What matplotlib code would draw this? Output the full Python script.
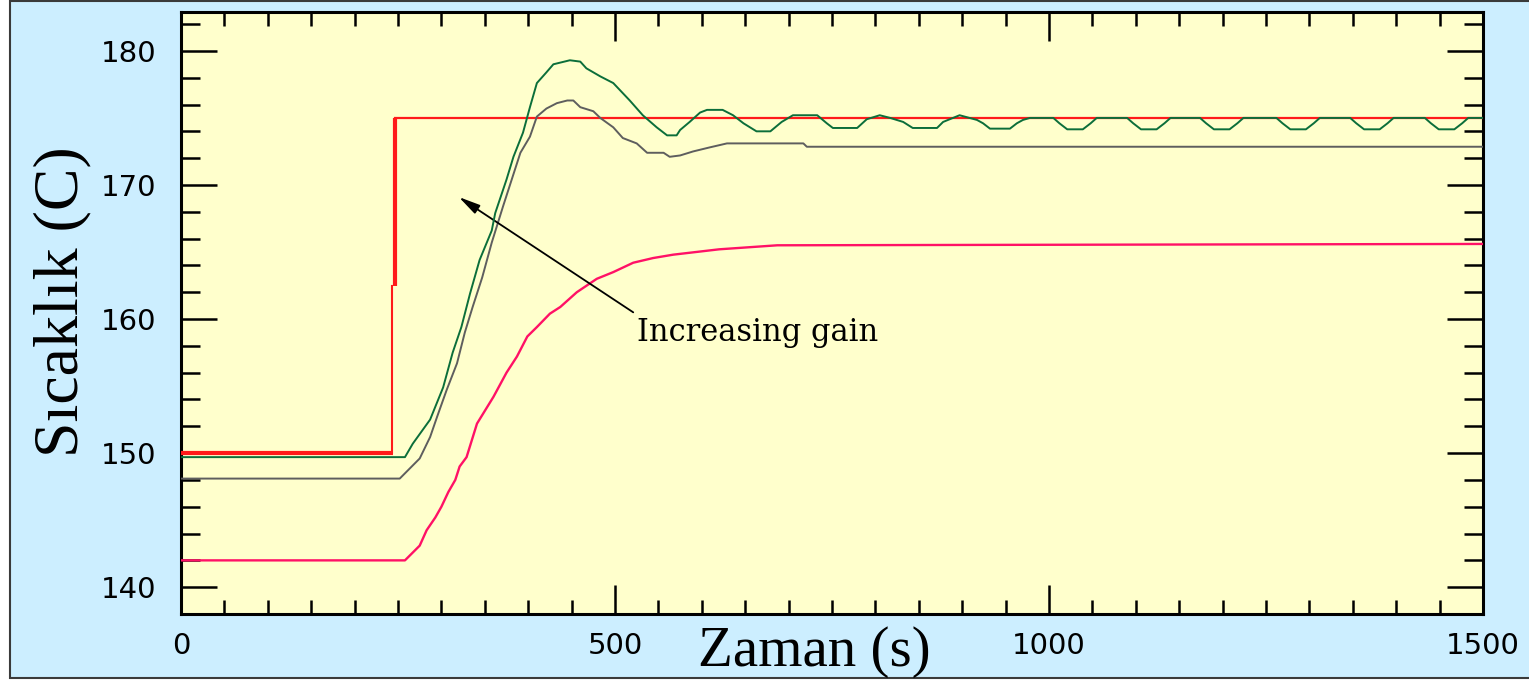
import numpy as np
import matplotlib
matplotlib.use("Agg")
import matplotlib.pyplot as plt
from matplotlib.patches import Rectangle
from matplotlib.ticker import MultipleLocator

# setpoint (red step)
sp_low_t = [0, 244]
sp_low_y = [150, 150]
sp_step_t = [243, 243]
sp_step_y = [150, 162.5]
sp_step2_t = [246, 246]
sp_step2_y = [162.5, 175]
sp_high_t = [246, 1500]
sp_high_y = [175, 175]

# highest gain (green)
green_t = [0, 258, 267, 287, 302, 313, 323, 333, 344, 358, 362, 375, 383, 394, 402,
           410, 421, 429, 448, 460, 467, 483, 498, 517, 532, 548, 560, 571, 575, 586,
           598, 606, 624, 636, 648, 663, 679, 692, 705, 733, 744, 751, 779, 790, 805,
           817, 832, 843, 871, 878, 897, 917, 924, 932, 955, 963, 970, 978,
           1005, 1012, 1021, 1039, 1048, 1055,
           1090, 1097, 1106, 1124, 1133, 1140,
           1174, 1181, 1190, 1208, 1217, 1224,
           1262, 1269, 1278, 1296, 1305, 1312,
           1347, 1354, 1363, 1381, 1390, 1397,
           1433, 1440, 1449, 1467, 1476, 1483, 1500]
green_y = [149.7, 149.7, 150.7, 152.5, 154.9, 157.5, 159.4, 161.9, 164.4, 166.6, 167.9,
           170.4, 172.1, 173.9, 175.8, 177.6, 178.4, 179.0, 179.3, 179.2, 178.7, 178.1,
           177.6, 176.3, 175.2, 174.3, 173.7, 173.7, 174.1, 174.7, 175.4, 175.6, 175.6,
           175.2, 174.6, 174.0, 174.0, 174.7, 175.2, 175.2, 174.6, 174.25, 174.25, 174.9,
           175.2, 175.0, 174.7, 174.25, 174.25, 174.7, 175.2, 174.85, 174.6, 174.2, 174.2,
           174.6, 174.85, 175.0,
           175.0, 174.6, 174.15, 174.15, 174.6, 175.0,
           175.0, 174.6, 174.15, 174.15, 174.6, 175.0,
           175.0, 174.6, 174.15, 174.15, 174.6, 175.0,
           175.0, 174.6, 174.15, 174.15, 174.6, 175.0,
           175.0, 174.6, 174.15, 174.15, 174.6, 175.0,
           175.0, 174.6, 174.15, 174.15, 174.6, 175.0, 175.0]

# middle gain (gray)
gray_t = [0, 252, 275, 287, 295, 306, 318, 327, 336, 347, 358, 371, 381, 391, 402, 410,
          421, 433, 445, 452, 460, 475, 483, 498, 509, 525, 537, 556, 563, 575, 590,
          609, 629, 717, 721, 1500]
gray_y = [148.1, 148.1, 149.6, 151.2, 152.7, 154.7, 156.7, 159.0, 160.9, 163.1, 165.7,
          168.4, 170.4, 172.4, 173.6, 175.1, 175.7, 176.1, 176.3, 176.3, 175.8, 175.5,
          175.0, 174.3, 173.5, 173.1, 172.4, 172.4, 172.1, 172.2, 172.5, 172.8, 173.1,
          173.1, 172.85, 172.85]

# lowest gain (pink)
pink_t = [0, 258, 275, 283, 293, 300, 308, 316, 321, 329, 341, 360, 375, 387, 399, 410,
          425, 437, 456, 479, 498, 521, 544, 567, 620, 687, 1500]
pink_y = [142.0, 142.0, 143.1, 144.25, 145.2, 146.0, 147.1, 148.0, 149.0, 149.7, 152.2,
          154.2, 156.0, 157.2, 158.7, 159.4, 160.4, 160.9, 162.0, 163.0, 163.5, 164.2,
          164.55, 164.8, 165.2, 165.5, 165.6]

x_ticks = [0, 500, 1000, 1500]
y_ticks = [140, 150, 160, 170, 180]

W, H = 1529, 680
fig = plt.figure(figsize=(W / 100, H / 100), dpi=100, facecolor="white")
fig.patches.append(Rectangle((10 / W, 2 / H), 1.2, 677 / H, transform=fig.transFigure,
                             facecolor="#cceeff", edgecolor="#3a3a3a", lw=1.5, zorder=-5))

ax = fig.add_axes([181 / W, 1 - 614 / H, (1483 - 181) / W, (614 - 12) / H])
ax.set_zorder(2)
ax.set_facecolor("#ffffcc")

red = "#ff1a1a"
ax.plot(sp_low_t, sp_low_y, color=red, lw=3.0, solid_capstyle="butt", zorder=4)
ax.plot(sp_step_t, sp_step_y, color=red, lw=1.5, zorder=4)
ax.plot(sp_step2_t, sp_step2_y, color=red, lw=3.0, solid_capstyle="butt", zorder=4)
ax.plot(sp_high_t, sp_high_y, color=red, lw=1.6, zorder=3)

ax.plot(gray_t, gray_y, color="#5e5e5e", lw=1.4, zorder=3)
ax.plot(pink_t, pink_y, color="#ff1166", lw=1.7, zorder=3)
ax.plot(green_t, green_y, color="#0b6e3a", lw=1.4, zorder=5)

ax.annotate("", xy=(320, 169.1), xytext=(521, 160.5),
            arrowprops=dict(arrowstyle="-|>,head_length=1.3,head_width=0.3",
                            color="black", lw=1.3, shrinkA=0, shrinkB=0))
ax.text(525, 159.0, "Increasing gain", fontsize=22, family="DejaVu Serif",
        va="center", ha="left")

ax.set_xlim(0, 1500)
ax.set_ylim(138, 182.9)
ax.set_xticks(x_ticks)
ax.set_yticks(y_ticks)
ax.xaxis.set_minor_locator(MultipleLocator(50))
ax.yaxis.set_minor_locator(MultipleLocator(2))
ax.tick_params(which="both", direction="in", top=True, right=True, width=1.8,
               labelsize=21, colors="black")
ax.tick_params(axis="x", which="major", length=21, pad=13)
ax.tick_params(axis="x", which="minor", length=10)
ax.tick_params(axis="y", which="major", length=26, pad=18)
ax.tick_params(axis="y", which="minor", length=13.5)
for s in ax.spines.values():
    s.set_linewidth(2.2)

fig.text(814 / W, 1 - 652 / H, "Zaman (s)", fontsize=41, family="Liberation Serif",
         ha="center", va="center")
fig.text(62 / W, 1 - 302 / H, "Sıcaklık (C)", fontsize=46, family="Liberation Serif",
         ha="center", va="center", rotation=90)

fig.savefig("out.png", dpi=100, facecolor=fig.get_facecolor())
